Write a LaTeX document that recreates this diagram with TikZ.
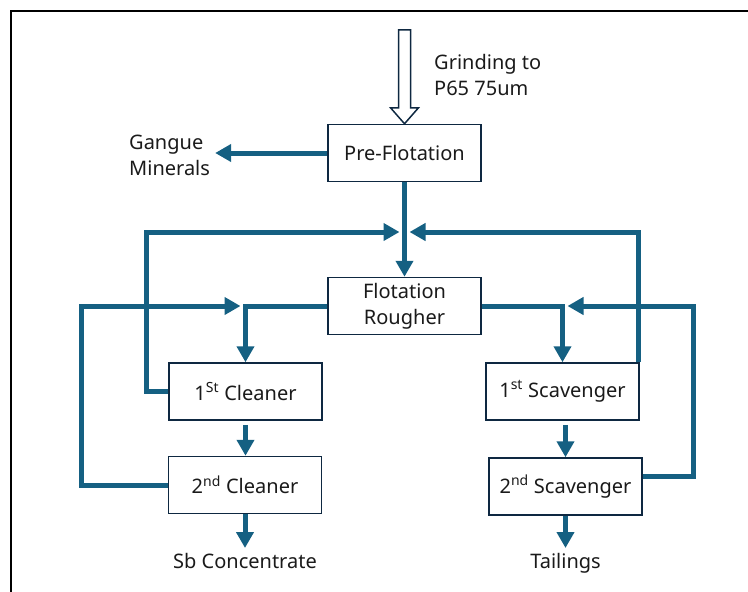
\documentclass[tikz,border=0pt]{standalone}
\usepackage{fontspec}
\setmainfont{Noto Sans}
\usetikzlibrary{arrows.meta}
\definecolor{flowblue}{HTML}{156082}
\definecolor{boxline}{HTML}{0E2841}
\definecolor{ink}{HTML}{1A1A1A}
\tikzset{>={Triangle[length=16pt, width=17pt]}}
\tikzset{box/.style={draw=boxline, line width=1.5pt, fill=white, minimum width=153pt, minimum height=57pt, align=center, text=ink, font=\fontsize{20}{26}\selectfont}}
\tikzset{flow/.style={draw=flowblue, line width=5pt, ->}}
\tikzset{note/.style={text=ink, font=\fontsize{20}{26}\selectfont, inner sep=5pt}}
\tikzset{hollow/.style={draw=boxline, line width=1.5pt, fill=white}}

\begin{document}
\begin{tikzpicture}[x=1pt, y=-1pt]
    \useasboundingbox(0, 0)rectangle(748, 592);
    \draw[line width=1.5pt](11, 592)--(11, 11)--(748, 11);

    \node[box](pre)at(404.5, 153){Pre-Flotation};
    \node[box](rougher)at(404.5, 306){Flotation\\Rougher};
    \node[box](cleanerA)at(245.5, 391.5){1\textsuperscript{St} Cleaner};
    \node[box](cleanerB)at(245, 485){2\textsuperscript{nd} Cleaner};
    \node[box](scavA)at(562.5, 391.5){1\textsuperscript{st} Scavenger};
    \node[box](scavB)at(565.5, 486.5){2\textsuperscript{nd} Scavenger};

    \node[note, anchor=west, align=left, inner sep=0pt](grind)at(434, 74.5){Grinding to\\P65 75um};
    \node[note, anchor=west, align=left](gangue)at(124, 155){Gangue\\Minerals};
    \node[note, anchor=north](conc)at(245, 548){Sb Concentrate};
    \node[note, anchor=north](tails)at(565.5, 548){Tailings};

    \coordinate(jtop)at(pre.south |- 0, 232);
    \coordinate(jleft)at(cleanerA.north |- rougher.west);
    \coordinate(jright)at(scavA.north |- rougher.east);

    \draw[hollow](pre.north)--++(-14, -16)--++(8, 0)--++(0, -78)--++(12, 0)--++(0, 78)--++(8, 0)--cycle;

    \draw[flow](pre.west)--(pre.west -| gangue.east);
    \draw[flow](pre.south)--(rougher.north);
    \draw[flow, shorten >=5pt](cleanerA.west)--++(-22, 0)|-(jtop);
    \draw[flow, shorten >=5pt]([xshift=-1pt]scavA.north east)|-(jtop);
    \draw[flow](rougher.west)-|(cleanerA.north);
    \draw[flow](rougher.east)-|(scavA.north);
    \draw[flow, shorten >=5pt](cleanerB.west)--++(-86, 0)|-(jleft);
    \draw[flow, shorten >=5pt]([yshift=10pt]scavB.east)--++(51, 0)|-(jright);
    \draw[flow, shorten <=4pt](cleanerA.south)--(cleanerA.south |- cleanerB.north);
    \draw[flow, shorten <=4pt](scavB.north |- scavA.south)--(scavB.north);
    \draw[flow](cleanerB.south -| conc.north)--(conc.north);
    \draw[flow](scavB.south)--(tails.north);
\end{tikzpicture}
\end{document}
